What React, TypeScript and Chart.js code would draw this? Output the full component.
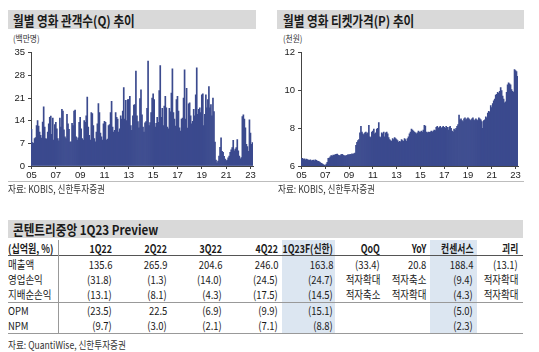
import React, { useEffect, useRef } from "react";
import { Chart, registerables } from "chart.js";

Chart.register(...registerables);

// ---------------- DATA ----------------
const START_YEAR = 2005;
const tickYears = ["05", "07", "09", "11", "13", "15", "17", "19", "21", "23"];

// 월별 영화 관객수 (백만명), 2005.01 ~ 2023.03
const audience = [
  11.3, 7.2, 7.0, 8.5, 8.8, 12.5, 14.0, 12.3, 10.5, 9.5, 8.6, 13.6, // 2005
  18.3, 12.0, 8.5, 8.3, 10.5, 13.0, 15.0, 15.4, 9.8, 14.8, 8.0, 12.8, // 2006
  13.5, 11.5, 8.5, 7.8, 14.8, 12.0, 17.5, 17.0, 11.2, 9.0, 8.5, 16.0, // 2007
  13.0, 11.3, 7.4, 7.5, 13.2, 12.5, 17.0, 17.3, 9.0, 8.0, 8.7, 13.5, // 2008
  15.0, 11.5, 8.5, 8.0, 14.0, 13.5, 15.5, 21.3, 12.0, 9.5, 8.0, 16.5, // 2009
  16.2, 12.5, 8.5, 7.5, 10.5, 13.0, 19.3, 16.5, 10.2, 9.0, 8.0, 13.0, // 2010
  13.8, 13.5, 8.0, 8.3, 12.5, 12.8, 16.5, 20.0, 12.0, 10.5, 11.0, 16.5, // 2011
  15.0, 14.5, 10.5, 11.5, 15.5, 14.5, 17.0, 24.2, 14.5, 20.3, 14.0, 20.5, // 2012
  20.5, 21.5, 12.5, 11.0, 15.5, 18.8, 19.0, 29.3, 15.5, 13.7, 11.8, 20.8, // 2013
  23.5, 15.8, 12.0, 10.5, 13.3, 13.7, 17.8, 32.4, 12.5, 13.4, 16.5, 21.0, // 2014
  22.3, 20.5, 12.0, 13.2, 15.0, 13.5, 23.3, 31.0, 15.0, 17.8, 12.5, 18.5, // 2015
  21.5, 18.0, 12.0, 11.5, 17.8, 16.7, 22.5, 30.0, 16.5, 14.5, 12.3, 20.5, // 2016
  21.5, 17.0, 11.8, 10.8, 14.5, 14.8, 21.0, 29.7, 14.5, 24.0, 11.7, 19.2, // 2017
  19.5, 15.5, 13.0, 13.8, 17.5, 15.5, 22.0, 30.3, 16.0, 17.5, 18.0, 16.5, // 2018
  22.0, 22.3, 12.5, 16.0, 22.0, 18.0, 20.5, 24.5, 18.0, 19.0, 15.5, 21.0, // 2019
  16.8, 7.4, 1.8, 1.0, 1.5, 3.1, 5.8, 8.7, 4.5, 4.2, 3.0, 2.1, // 2020
  1.6, 1.8, 2.5, 3.1, 4.2, 5.0, 5.7, 7.9, 4.7, 5.2, 5.7, 8.2, // 2021
  4.7, 3.1, 2.2, 2.6, 15.3, 15.8, 14.5, 11.8, 6.7, 6.0, 4.5, 14.3, // 2022
  10.2, 6.7, 7.2, // 2023
];

// 월별 영화 티켓가격 (천원), 2005.01 ~ 2023.03
const ticketPrice = [
  6.38, 6.40, 6.35, 6.38, 6.33, 6.36, 6.34, 6.32, 6.30, 6.33, 6.28, 6.30, // 2005
  6.32, 6.28, 6.33, 6.30, 6.26, 6.25, 6.22, 6.18, 6.14, 6.12, 6.08, 6.05, // 2006
  6.02, 6.10, 6.20, 6.40, 6.42, 6.48, 6.55, 6.52, 6.58, 6.56, 6.60, 6.62, // 2007
  6.63, 6.58, 6.55, 6.55, 6.60, 6.62, 6.58, 6.55, 6.52, 6.55, 6.56, 6.60, // 2008
  6.58, 6.62, 6.60, 6.65, 6.62, 6.66, 6.68, 7.10, 7.25, 7.35, 7.40, 7.75, // 2009
  8.10, 7.80, 7.70, 7.65, 7.75, 7.80, 7.70, 7.75, 8.15, 7.55, 7.50, 7.80, // 2010
  7.85, 7.95, 7.70, 7.75, 7.95, 8.00, 8.30, 7.55, 7.50, 7.75, 7.70, 7.80, // 2011
  7.55, 7.75, 7.80, 7.70, 7.50, 7.40, 7.35, 7.30, 7.45, 7.40, 7.50, 7.45, // 2012
  7.40, 7.35, 7.25, 7.30, 7.28, 7.40, 7.35, 7.30, 7.45, 7.40, 7.30, 7.45, // 2013
  7.55, 7.70, 7.80, 7.95, 7.90, 7.85, 7.80, 7.75, 7.70, 7.75, 7.85, 7.80, // 2014
  7.80, 7.85, 7.80, 7.90, 8.15, 8.12, 7.80, 7.75, 7.80, 7.78, 7.80, 7.85, // 2015
  7.80, 7.85, 7.90, 7.88, 8.05, 8.10, 8.00, 8.05, 8.10, 8.00, 8.05, 8.10, // 2016
  8.05, 8.00, 8.10, 8.05, 7.90, 8.05, 8.10, 8.00, 7.85, 7.80, 7.95, 7.90, // 2017
  8.00, 8.10, 8.20, 8.70, 8.45, 8.50, 8.40, 8.35, 8.50, 8.55, 8.45, 8.50, // 2018
  8.55, 8.50, 8.45, 8.40, 8.50, 8.55, 8.45, 8.40, 8.50, 8.45, 8.40, 8.55, // 2019
  8.50, 8.45, 8.35, 8.00, 8.40, 8.45, 8.60, 8.55, 8.80, 8.90, 8.85, 9.20, // 2020
  9.10, 9.30, 9.45, 9.55, 9.75, 9.80, 9.90, 9.85, 9.95, 10.15, 10.00, 9.70, // 2021
  9.55, 9.35, 9.40, 9.90, 10.30, 10.40, 10.35, 10.30, 10.05, 9.95, 9.90, 11.10, // 2022
  11.05, 11.00, 10.75, // 2023
];

// 콘텐트리중앙 1Q23 Preview
const tableTitle = "콘텐트리중앙 1Q23 Preview";
const tableUnit = "(십억원, %)";
const tableColumns = ["1Q22", "2Q22", "3Q22", "4Q22", "1Q23F(신한)", "QoQ", "YoY", "컨센서스", "괴리"];
const rowRevenue = ["매출액", "135.6", "265.9", "204.6", "246.0", "163.8", "(33.4)", "20.8", "188.4", "(13.1)"];
const rowOpProfit = ["영업손익", "(31.8)", "(1.3)", "(14.0)", "(24.5)", "(24.7)", "적자확대", "적자축소", "(9.4)", "적자확대"];
const rowNetProfit = ["지배순손익", "(13.1)", "(8.1)", "(4.3)", "(17.5)", "(14.5)", "적자축소", "적자확대", "(4.3)", "적자확대"];
const rowOPM = ["OPM", "(23.5)", "22.5", "(6.9)", "(9.9)", "(15.1)", "", "", "(5.0)", ""];
const rowNPM = ["NPM", "(9.7)", "(3.0)", "(2.1)", "(7.1)", "(8.8)", "", "", "(2.3)", ""];

// ---------------- STYLE ----------------
const KR = '"Noto Sans CJK KR", "Noto Sans", sans-serif';
const NUMF = '"Liberation Sans", Arial, sans-serif';
const NAVY = "#3b4a8e";
const BAR_GRAY = "#d9d9d9";
const HILITE = "#dce6f1";
const W = 539;

const monthLabels = audience.map((_, i) => {
  const y = START_YEAR + Math.floor(i / 12);
  const m = (i % 12) + 1;
  return `${String(y).slice(2)}.${String(m).padStart(2, "0")}`;
});

// returns the tick label for a category index, or null (tick removed)
function tickText(i: number): string | null {
  const lab = monthLabels[i];
  if (!lab) return null;
  const [yy, mm] = lab.split(".");
  return mm === "01" && tickYears.includes(yy) ? yy : null;
}

type BarOpts = {
  data: number[];
  min: number;
  max: number;
  step: number;
  padTop: number;
  padRight: number;
  width: number;
  height: number;
};

function BarChart({ data, min, max, step, padTop, padRight, width, height }: BarOpts) {
  const ref = useRef<HTMLCanvasElement | null>(null);
  useEffect(() => {
    if (!ref.current) return;
    const chart = new Chart(ref.current, {
      type: "bar",
      data: {
        labels: monthLabels,
        datasets: [
          {
            data,
            backgroundColor: NAVY,
            borderWidth: 0,
            barPercentage: 1,
            categoryPercentage: 1,
          },
        ],
      },
      options: {
        animation: false,
        responsive: false,
        maintainAspectRatio: false,
        layout: { padding: { top: padTop, right: padRight, bottom: 0, left: 0 } },
        plugins: { legend: { display: false }, tooltip: { enabled: false } },
        scales: {
          x: {
            offset: true,
            grid: {
              display: true,
              offset: false,
              drawOnChartArea: false,
              drawTicks: true,
              tickLength: 3,
              color: "#444",
            },
            border: { display: true, color: "#444", width: 1 },
            ticks: {
              autoSkip: false,
              maxRotation: 0,
              minRotation: 0,
              padding: 1,
              color: "#222",
              font: { size: 9.5, family: NUMF },
              callback: (_v: any, i: number) => tickText(i),
            },
            afterFit: (s: any) => {
              s.height = 18;
            },
          },
          y: {
            min,
            max,
            ticks: { stepSize: step, padding: 3, color: "#222", font: { size: 9.5, family: NUMF } },
            grid: { display: true, drawOnChartArea: false, drawTicks: true, tickLength: 3, color: "#444" },
            border: { display: true, color: "#444", width: 1 },
            afterFit: (s: any) => {
              s.width = 31;
            },
          },
        },
      },
    } as any);
    return () => chart.destroy();
  }, []);
  return <canvas ref={ref} width={width} height={height} style={{ display: "block", width, height }} />;
}

type TxtProps = {
  x: number;
  y: number;
  size: number;
  text: string;
  bold?: boolean;
  align?: "left" | "right";
  sx?: number;
  color?: string;
  family?: string;
  ls?: number;
};

function Txt({ x, y, size, text, bold, align = "left", sx = 0.86, color = "#1a1a1a", family = KR, ls = 0 }: TxtProps) {
  const h = 16;
  const style: React.CSSProperties = {
    position: "absolute",
    top: y - h / 2,
    height: h,
    lineHeight: `${h}px`,
    fontSize: size,
    fontFamily: family,
    fontWeight: bold ? 700 : 400,
    color,
    whiteSpace: "nowrap",
    letterSpacing: ls,
    transform: `scaleX(${sx})`,
    transformOrigin: align === "left" ? "left center" : "right center",
  };
  if (align === "left") style.left = x;
  else style.right = W - x;
  return <div style={style}>{text}</div>;
}

function Rect({ x, y, w, h, bg }: { x: number; y: number; w: number; h: number; bg: string }) {
  return <div style={{ position: "absolute", left: x, top: y, width: w, height: h, background: bg }} />;
}

// table layout (HTML layout constants)
const colRight = [112, 167, 222, 278, 333, 380, 426, 473, 518];
const bodyRows = [rowRevenue, rowOpProfit, rowNetProfit, rowOPM, rowNPM];
const rowCenterY = [264, 279, 294, 310, 325];

export default function App() {
  return (
    <div style={{ position: "absolute", left: 0, top: 0, width: W, height: 352, background: "#fff", overflow: "hidden" }}>
      {/* Chart 1 */}
      <Rect x={8} y={10} w={248} h={19} bg={BAR_GRAY} />
      <Txt x={13} y={19.5} size={13.5} bold text="월별 영화 관객수(Q) 추이" />
      <Txt x={13} y={38.5} size={9} text="(백만명)" color="#333" />
      <div style={{ position: "absolute", left: 0, top: 44 }}>
        <BarChart data={audience} min={0} max={35} step={7} padTop={7} padRight={9} width={262} height={140} />
      </div>

      {/* Chart 2 */}
      <Rect x={277} y={10} w={247} h={19} bg={BAR_GRAY} />
      <Txt x={283} y={19.5} size={13.5} bold text="월별 영화 티켓가격(P) 추이" />
      <Txt x={283} y={38.5} size={9} text="(천원)" color="#333" />
      <div style={{ position: "absolute", left: 270, top: 44 }}>
        <BarChart data={ticketPrice} min={6} max={12} step={2} padTop={8} padRight={14} width={262} height={140} />
      </div>

      {/* line + sources */}
      <Rect x={8} y={181} w={516} h={1} bg="#bdbdbd" />
      <Txt x={8} y={189} size={10} text="자료: KOBIS, 신한투자증권" color="#333" />
      <Txt x={278} y={189} size={10} text="자료: KOBIS, 신한투자증권" color="#333" />

      {/* Table */}
      <Rect x={8} y={220} w={515} h={18} bg={BAR_GRAY} />
      <Txt x={13} y={229} size={13.5} bold text={tableTitle} />
      <Rect x={282} y={240} w={53} h={93} bg={HILITE} />
      <Rect x={430} y={240} w={47} h={93} bg={HILITE} />
      <Txt x={8} y={248} size={11} bold sx={0.82} text={tableUnit} />
      {tableColumns.map((c, i) => (
        <Txt key={c} x={colRight[i]} y={248} size={11} bold sx={0.8} align="right" text={c} />
      ))}
      <Rect x={8} y={255} w={515} h={1} bg="#555" />
      <Rect x={8} y={302} w={515} h={1} bg="#999" />
      <Rect x={8} y={333} w={515} h={1} bg="#999" />
      <Rect x={58} y={240} w={1} h={93} bg="#999" />
      {bodyRows.map((row, r) => (
        <React.Fragment key={r}>
          <Txt x={8} y={rowCenterY[r]} size={11} text={row[0]} />
          {row.slice(1).map((v, i) =>
            v ? <Txt key={i} x={colRight[i]} y={rowCenterY[r]} size={11} align="right" text={v} /> : null
          )}
        </React.Fragment>
      ))}
      <Txt x={8} y={345} size={10} text="자료: QuantiWise, 신한투자증권" color="#333" />
    </div>
  );
}
